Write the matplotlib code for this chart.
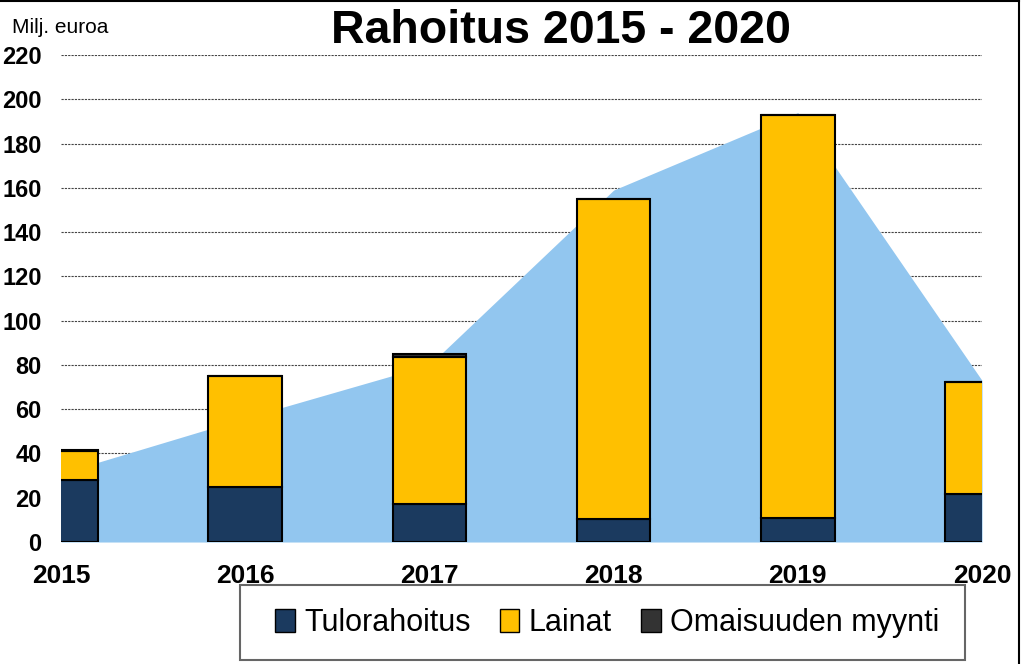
import matplotlib
matplotlib.use('Agg')
import matplotlib.pyplot as plt
from matplotlib.patches import Rectangle, Patch
from matplotlib.lines import Line2D

plt.rcParams['font.family'] = ['Liberation Sans', 'DejaVu Sans']

# Data (Milj. euroa)
years = ['2015', '2016', '2017', '2018', '2019', '2020']
tulorahoitus = [28, 25, 17, 10.5, 11, 21.5]
lainat = [13, 50, 66.5, 144.5, 182, 51]
omaisuus = [0.5, 0, 1.5, 0, 0, 0]
tausta = [31, 56, 80, 159, 194, 73]   # light blue area behind bars

col_tulo = '#1b3a5f'
col_lainat = '#ffc000'
col_omais = '#333333'
col_area = '#92c6ef'

fig = plt.figure(figsize=(10.24, 6.64), dpi=100)
ax = fig.add_axes([0.0596, 0.1837, 0.8994, 0.7334])

x = list(range(len(years)))

# Background area
ax.fill_between(x, 0, tausta, color=col_area, linewidth=0, zorder=1)

# Stacked bars
w = 0.4
ax.bar(x, tulorahoitus, w, color=col_tulo, edgecolor='black', linewidth=1.5, zorder=3)
bottom2 = tulorahoitus
ax.bar(x, lainat, w, bottom=bottom2, color=col_lainat, edgecolor='black', linewidth=1.5, zorder=3)
bottom3 = [a + b for a, b in zip(tulorahoitus, lainat)]
ax.bar(x, omaisuus, w, bottom=bottom3, color=col_omais, edgecolor='black', linewidth=1.5, zorder=3)

ax.set_xlim(0, 5)
ax.set_ylim(0, 220)
ax.set_yticks(range(0, 221, 20))
ax.set_xticks(x)
ax.set_xticklabels(years)
ax.tick_params(axis='both', length=0)
ax.tick_params(axis='y', labelsize=17, pad=14)
ax.tick_params(axis='x', labelsize=19, pad=16)
for lab in ax.get_xticklabels() + ax.get_yticklabels():
    lab.set_fontweight('bold')

ax.yaxis.grid(True, color='#444444', linestyle=(0, (2, 1)), linewidth=0.8, zorder=0)
ax.set_axisbelow(True)
for s in ax.spines.values():
    s.set_visible(False)

# Title and unit label
fig.text(0.548, 0.953, 'Rahoitus 2015 - 2020', ha='center', va='center',
         fontsize=33.5, fontweight='bold')
fig.text(0.012, 0.958, 'Milj. euroa', ha='left', va='center', fontsize=15)

# Legend box
fig.patches.append(Rectangle((240 / 1024, 4 / 664), 725 / 1024, 75 / 664,
                             transform=fig.transFigure, facecolor='white',
                             edgecolor='#666666', linewidth=1.5))
handles = [Patch(facecolor=col_tulo, edgecolor='black', label='Tulorahoitus'),
           Patch(facecolor=col_lainat, edgecolor='black', label='Lainat'),
           Patch(facecolor=col_omais, edgecolor='black', label='Omaisuuden myynti')]
fig.legend(handles=handles, loc='center', bbox_to_anchor=(607 / 1024, 41 / 664),
           ncol=3, frameon=False, fontsize=22, handlelength=0.65, handleheight=0.75,
           handletextpad=0.3, columnspacing=0.95)

# Outer border (top and right)
fig.add_artist(Line2D([0, 1019 / 1024], [1 - 1 / 664, 1 - 1 / 664], color='black',
                      linewidth=1.5, transform=fig.transFigure))
fig.add_artist(Line2D([1019 / 1024, 1019 / 1024], [0, 1], color='black',
                      linewidth=1.5, transform=fig.transFigure))

fig.savefig('out.png', dpi=100)
